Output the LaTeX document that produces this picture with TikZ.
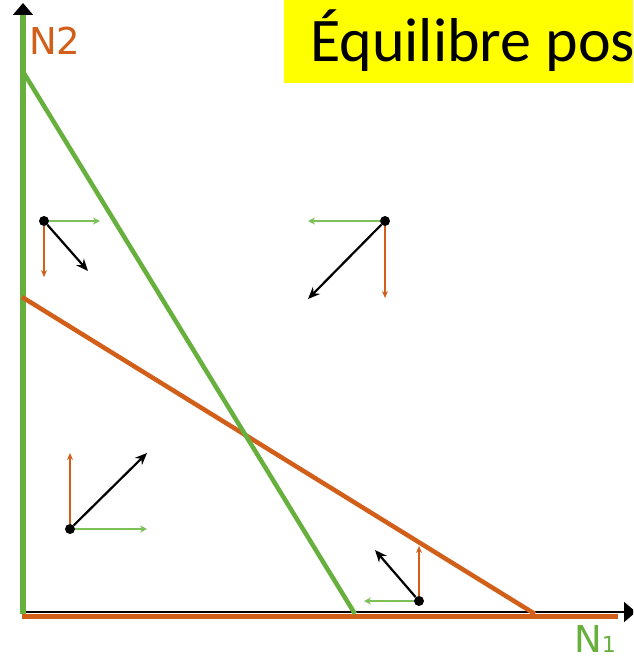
\documentclass[tikz,border=0pt]{standalone}
\usepackage{fontspec}
\newfontfamily\carl{Carlito}
\newfontfamily\dejavu{DejaVu Sans}
\usetikzlibrary{arrows.meta}
\definecolor{myorange}{RGB}{210,95,25}
\definecolor{mygreen}{RGB}{104,176,62}
\definecolor{lightgreen}{RGB}{125,192,88}
\definecolor{titleyellow}{RGB}{255,255,0}
\begin{document}
\begin{tikzpicture}[x=1pt,y=-1pt,
  dotnode/.style={circle, fill=black, inner sep=0pt, minimum size=10pt},
  bigvec/.style={black, line width=2.2pt, -{Stealth[length=12pt,width=10pt]}},
  gvec/.style={lightgreen, line width=1.8pt, -{Stealth[length=7pt,width=7pt]}},
  ovec/.style={myorange, line width=1.5pt, -{Stealth[length=7pt,width=6pt]}},
  iso/.style={line width=4.5pt},
  lab/.style={inner sep=0pt, anchor=base west}]
\path[use as bounding box, fill=white] (0,0) rectangle (633,660);
\begin{scope}
\clip (0,0) rectangle (633,660);
% title
\node[fill=titleyellow, inner sep=0pt, minimum width=360pt, minimum height=83pt, anchor=north west] (titlebox) at (284,0) {};
\node[lab, font=\carl\fontsize{62}{62}\selectfont] (title) at (310,62) {Équilibre pos};
% axes
\coordinate (O) at (22,612);
\coordinate (ytop) at (23,3);
\coordinate (xend) at (636,612);
\draw[myorange, line width=5pt] (22,616) -- (618,616);
\draw[black, line width=1.8pt, -{Triangle[length=12pt,width=20pt]}] (O) -- (xend);
\draw[black, line width=1.8pt, -{Triangle[length=12pt,width=20pt]}] (23,614) -- (ytop);
\draw[mygreen, line width=5.5pt] (23,614) -- (23,15);
% isoclines
\coordinate (g1) at (22,70);
\coordinate (g2) at (355,614);
\coordinate (o1) at (22,297);
\coordinate (o2) at (535,614);
\draw[iso, myorange] (o1) -- (o2);
\draw[iso, mygreen] (g1) -- (g2);
% labels
\node[lab, text=myorange, font=\dejavu\fontsize{37}{37}\selectfont] (n2) at (29,55) {N2};
\node[lab, text=mygreen, font=\dejavu\fontsize{37}{37}\selectfont] (n1) at (574,652) {N{\fontsize{22}{22}\selectfont 1}};
% vector groups
\node[dotnode] (d1) at (44,221) {};
\coordinate (d1g) at (100,221);
\coordinate (d1o) at (44,277);
\coordinate (d1b) at (88,271);
\draw[gvec] (d1) -- (d1g);
\draw[ovec] (d1) -- (d1o);
\draw[bigvec] (d1) -- (d1b);

\node[dotnode] (d2) at (385,221) {};
\coordinate (d2g) at (308,221);
\coordinate (d2o) at (385,298);
\coordinate (d2b) at (308,299);
\draw[gvec] (d2) -- (d2g);
\draw[ovec] (d2) -- (d2o);
\draw[bigvec] (d2) -- (d2b);

\node[dotnode] (d3) at (70,529) {};
\coordinate (d3g) at (147,529);
\coordinate (d3o) at (70,453);
\coordinate (d3b) at (147,453);
\draw[gvec] (d3) -- (d3g);
\draw[ovec] (d3) -- (d3o);
\draw[bigvec] (d3) -- (d3b);

\node[dotnode] (d4) at (419,601) {};
\coordinate (d4g) at (364,601);
\coordinate (d4o) at (419,546);
\coordinate (d4b) at (375,550);
\draw[gvec] (d4) -- (d4g);
\draw[ovec] (d4) -- (d4o);
\draw[bigvec] (d4) -- (d4b);
\end{scope}
\end{tikzpicture}
\end{document}
